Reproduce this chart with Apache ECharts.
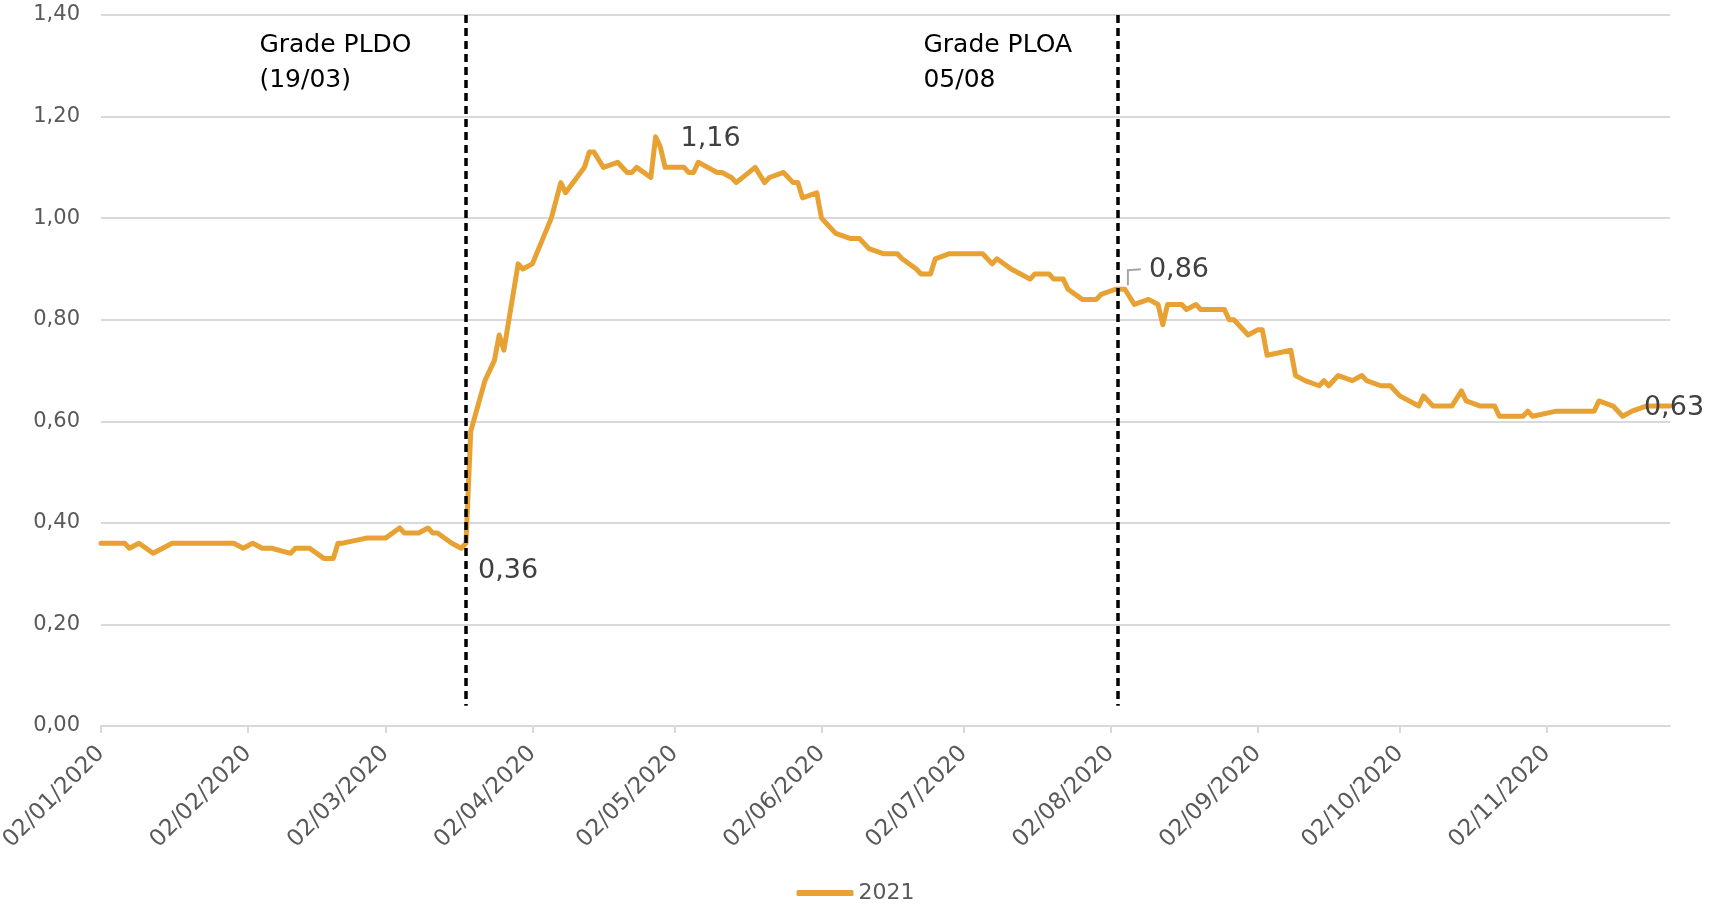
<!DOCTYPE html>
<html>
<head>
<meta charset="utf-8">
<script src="https://cdn.jsdelivr.net/npm/echarts@6/dist/echarts.min.js"></script>
<style>
html,body{margin:0;padding:0;background:#fff;}
#chart{width:1711px;height:909px;}
</style>
</head>
<body>
<div id="chart"></div>
<script>
// ---- data ----
const seriesName = '2021';
const dates = [
'2020-01-02','2020-01-07','2020-01-08','2020-01-10','2020-01-13','2020-01-15','2020-01-17','2020-01-30',
'2020-02-01','2020-02-03','2020-02-05','2020-02-07','2020-02-11','2020-02-12','2020-02-15','2020-02-18',
'2020-02-20','2020-02-21','2020-02-22','2020-02-27','2020-03-02','2020-03-05','2020-03-06','2020-03-09',
'2020-03-11','2020-03-12','2020-03-13','2020-03-16','2020-03-18','2020-03-19','2020-03-20','2020-03-23',
'2020-03-25','2020-03-26','2020-03-27','2020-03-30','2020-03-31','2020-04-02','2020-04-06','2020-04-08',
'2020-04-09','2020-04-13','2020-04-14','2020-04-15','2020-04-17','2020-04-20','2020-04-22','2020-04-23',
'2020-04-24','2020-04-27','2020-04-28','2020-04-29','2020-04-30','2020-05-04','2020-05-05','2020-05-06',
'2020-05-07','2020-05-09','2020-05-11','2020-05-12','2020-05-14','2020-05-15','2020-05-19','2020-05-21',
'2020-05-22','2020-05-25','2020-05-27','2020-05-28','2020-05-29','2020-06-01','2020-06-02','2020-06-03',
'2020-06-05','2020-06-08','2020-06-10','2020-06-12','2020-06-15','2020-06-18','2020-06-19','2020-06-22',
'2020-06-23','2020-06-25','2020-06-26','2020-06-29','2020-07-06','2020-07-08','2020-07-09','2020-07-12',
'2020-07-14','2020-07-16','2020-07-17','2020-07-20','2020-07-21','2020-07-23','2020-07-24','2020-07-27',
'2020-07-30','2020-07-31','2020-08-03','2020-08-05','2020-08-07','2020-08-10','2020-08-12','2020-08-13',
'2020-08-14','2020-08-17','2020-08-18','2020-08-20','2020-08-21','2020-08-26','2020-08-27','2020-08-28',
'2020-08-31','2020-09-02','2020-09-03','2020-09-04','2020-09-09','2020-09-10','2020-09-12','2020-09-15',
'2020-09-16','2020-09-17','2020-09-19','2020-09-22','2020-09-24','2020-09-25','2020-09-28','2020-09-30',
'2020-10-02','2020-10-06','2020-10-07','2020-10-09','2020-10-13','2020-10-15','2020-10-16','2020-10-19',
'2020-10-22','2020-10-23','2020-10-28','2020-10-29','2020-10-30','2020-11-04','2020-11-12','2020-11-13',
'2020-11-16','2020-11-18','2020-11-20','2020-11-23','2020-11-28'
];
const values = [
0.36,0.36,0.35,0.36,0.34,0.35,0.36,0.36,
0.35,0.36,0.35,0.35,0.34,0.35,0.35,0.33,
0.33,0.36,0.36,0.37,0.37,0.39,0.38,0.38,
0.39,0.38,0.38,0.36,0.35,0.36,0.58,0.68,
0.72,0.77,0.74,0.91,0.90,0.91,1.00,1.07,
1.05,1.10,1.13,1.13,1.10,1.11,1.09,1.09,
1.10,1.08,1.16,1.14,1.10,1.10,1.09,1.09,
1.11,1.10,1.09,1.09,1.08,1.07,1.10,1.07,
1.08,1.09,1.07,1.07,1.04,1.05,1.00,0.99,
0.97,0.96,0.96,0.94,0.93,0.93,0.92,0.90,
0.89,0.89,0.92,0.93,0.93,0.91,0.92,0.90,
0.89,0.88,0.89,0.89,0.88,0.88,0.86,0.84,
0.84,0.85,0.86,0.86,0.83,0.84,0.83,0.79,
0.83,0.83,0.82,0.83,0.82,0.82,0.80,0.80,
0.77,0.78,0.78,0.73,0.74,0.69,0.68,0.67,
0.68,0.67,0.69,0.68,0.69,0.68,0.67,0.67,
0.65,0.63,0.65,0.63,0.63,0.66,0.64,0.63,
0.63,0.61,0.61,0.62,0.61,0.62,0.62,0.64,
0.63,0.61,0.62,0.63,0.63
];
const labeledDates = ['2020-03-19','2020-04-28','2020-08-05','2020-11-28'];
const tickLabels = ['02/01/2020','02/02/2020','02/03/2020','02/04/2020','02/05/2020','02/06/2020',
  '02/07/2020','02/08/2020','02/09/2020','02/10/2020','02/11/2020'];
const axisEnd = '2020-11-28';
const eventDates = ['2020-03-19 00','2020-08-03 12'];
const annotationTexts = ['Grade PLDO\n(19/03)', 'Grade PLOA\n05/08'];
const yTicks = {min: 0, max: 1.4, interval: 0.2};

// ---- helpers ----
function iso(s){
  const parts = s.split(' ');
  const p = parts[0].split('-').map(Number);
  const h = parts[1] ? Number(parts[1]) : 0;
  return new Date(p[0], p[1]-1, p[2], h).getTime();
}
function dmy(s){ const p = s.split('/').map(Number); return new Date(p[2], p[1]-1, p[0]).getTime(); }
function fmtNum(v){ return v.toFixed(2).replace('.', ','); }
function fmtDate(t){ const d = new Date(t); const p = n => (n<10?'0':'')+n; return p(d.getDate())+'/'+p(d.getMonth()+1)+'/'+d.getFullYear(); }

const FONT = 'DejaVu Sans';
const ORANGE = '#E8A133';
const tickValues = tickLabels.map(dmy);

// label placement (style), indexed like labeledDates
const labelMoves = [
  {pos: 'right', dx: 7, dy: 28},
  {pos: 'right', dx: 20, dy: 2},
  {pos: 'right', dx: 19, dy: -19, guide: true},
  {pos: 'inside', dx: 4, dy: 2}
];

const data = dates.map((d, i) => {
  const item = {value: [iso(d), values[i]]};
  const li = labeledDates.indexOf(d);
  if (li >= 0) {
    item.label = {show: true, position: labelMoves[li].pos, formatter: p => fmtNum(p.value[1])};
  }
  return item;
});
const labeledIdx = labeledDates.map(d => dates.indexOf(d));

const chart = echarts.init(document.getElementById('chart'), null, {renderer: 'canvas'});
chart.setOption({
  animation: false,
  textStyle: {fontFamily: FONT},
  grid: {left: 101, right: 41, top: 15, bottom: 183, containLabel: false, outerBoundsMode: 'none'},
  legend: {
    data: [seriesName], bottom: 0, left: 'center',
    icon: 'roundRect', itemWidth: 57, itemHeight: 6, itemGap: 10,
    textStyle: {color: '#595959', fontSize: 22, fontFamily: FONT}
  },
  xAxis: {
    type: 'value',
    min: iso(dates[0]), max: iso(axisEnd),
    splitLine: {show: false},
    axisLine: {show: true, lineStyle: {color: '#d9d9d9', width: 2}},
    axisTick: {show: true, customValues: tickValues, length: 7, lineStyle: {color: '#d9d9d9', width: 2}},
    axisLabel: {
      customValues: tickValues, rotate: 45, margin: 24, color: '#595959',
      fontSize: 23, fontFamily: FONT, formatter: v => fmtDate(v)
    }
  },
  yAxis: {
    type: 'value', min: yTicks.min, max: yTicks.max, interval: yTicks.interval,
    axisLine: {show: false}, axisTick: {show: false},
    axisLabel: {color: '#595959', fontSize: 21, fontFamily: FONT, margin: 21, formatter: v => fmtNum(v)},
    splitLine: {lineStyle: {color: '#d9d9d9', width: 2}}
  },
  series: [{
    name: seriesName,
    type: 'line',
    data: data,
    symbol: 'circle', symbolSize: 0, showSymbol: true,
    itemStyle: {color: ORANGE, borderWidth: 0},
    lineStyle: {color: ORANGE, width: 5, join: 'round', cap: 'round'},
    label: {show: false, color: '#404040', fontSize: 27, fontFamily: FONT},
    labelLayout: function (p) {
      const k = labeledIdx.indexOf(p.dataIndex);
      if (k >= 0) return {dx: labelMoves[k].dx, dy: labelMoves[k].dy};
      return {};
    },
    markLine: {
      silent: true, symbol: ['none','none'],
      label: {show: false},
      lineStyle: {color: '#000', width: 3.5, type: [8,5]},
      data: eventDates.map(d => [{coord: [iso(d), yTicks.max]}, {coord: [iso(d), 0.04]}])
    },
    markPoint: {
      silent: true,
      symbol: 'circle', symbolSize: 0,
      label: {show: true, position: 'right', distance: 0, align: 'left', verticalAlign: 'middle',
              color: '#000', fontSize: 25, lineHeight: 35, fontFamily: FONT},
      data: [
        {coord: [iso('2020-02-04 10'), 1.306], label: {formatter: annotationTexts[0]}},
        {coord: [iso('2020-06-23 12'), 1.306], label: {formatter: annotationTexts[1]}}
      ]
    }
  }]
});

// leader line for the label that was moved away from its point
const guides = [];
labelMoves.forEach((m, k) => {
  if (!m.guide) return;
  const i = labeledIdx[k];
  const pt = chart.convertToPixel({seriesIndex: 0}, [iso(dates[i]), values[i]]);
  guides.push({
    type: 'polyline', silent: true, z: 10,
    shape: {points: [[pt[0] + 3, pt[1] - 4], [pt[0] + 3, pt[1] - 19], [pt[0] + 16, pt[1] - 20]]},
    style: {stroke: '#a6a6a6', lineWidth: 2, fill: null}
  });
});
chart.setOption({graphic: guides});
</script>
</body>
</html>
